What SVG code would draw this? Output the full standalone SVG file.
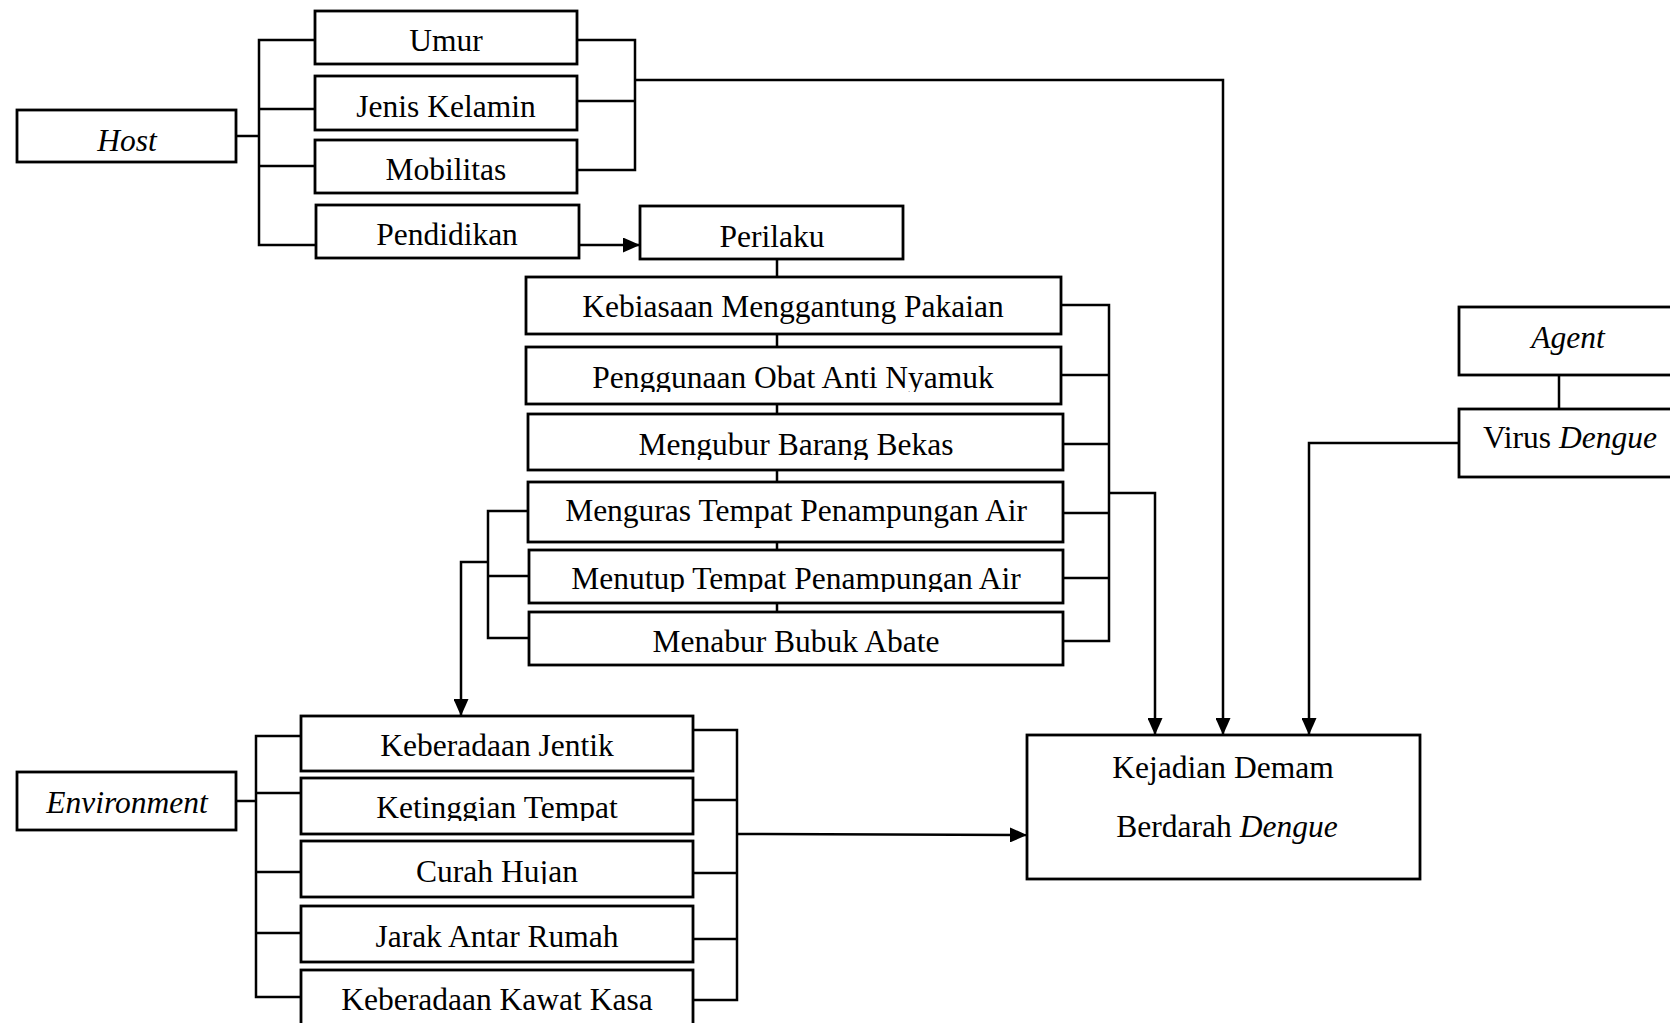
<svg xmlns="http://www.w3.org/2000/svg" width="1670" height="1023" viewBox="0 0 1670 1023">
<style>
.box{fill:#fff;stroke:#000;stroke-width:2.8}
.ln{fill:none;stroke:#000;stroke-width:2.5}
.t{font-family:"Liberation Serif","Times New Roman",serif;font-size:31.5px;fill:#000;text-anchor:middle}
.i{font-style:italic}
</style>
<defs>
<marker id="arr" viewBox="0 0 10 10" refX="10" refY="5" markerWidth="17" markerHeight="15" markerUnits="userSpaceOnUse" orient="auto" preserveAspectRatio="none">
<path d="M0,0 L10,5 L0,10 z" fill="#000"/>
</marker>
<clipPath id="cPeng"><rect x="526" y="347" width="535" height="45"/></clipPath>
<clipPath id="cMengubur"><rect x="528" y="414" width="535" height="46"/></clipPath>
<clipPath id="cMenutup"><rect x="529" y="550" width="534" height="42"/></clipPath>
<clipPath id="cKet"><rect x="301" y="778" width="392" height="43"/></clipPath>
<clipPath id="cCurah"><rect x="301" y="841" width="392" height="43"/></clipPath>
</defs>
<rect width="1670" height="1023" fill="#fff"/>

<g id="connectors">
<polyline class="ln" points="315,40 259,40 259,245 316,245"/>
<line class="ln" x1="259" y1="109" x2="315" y2="109"/>
<line class="ln" x1="259" y1="166" x2="315" y2="166"/>
<line class="ln" x1="236" y1="136" x2="259" y2="136"/>
<polyline class="ln" points="577,40 635,40 635,170 577,170"/>
<line class="ln" x1="577" y1="101" x2="635" y2="101"/>
<polyline class="ln" points="635,80 1223,80 1223,735" marker-end="url(#arr)"/>
<line class="ln" x1="579" y1="245" x2="640" y2="245" marker-end="url(#arr)"/>
<line class="ln" x1="777" y1="259" x2="777" y2="612"/>
<polyline class="ln" points="1061,305 1109,305 1109,641 1063,641"/>
<line class="ln" x1="1061" y1="375" x2="1109" y2="375"/>
<line class="ln" x1="1063" y1="444" x2="1109" y2="444"/>
<line class="ln" x1="1063" y1="513" x2="1109" y2="513"/>
<line class="ln" x1="1063" y1="578" x2="1109" y2="578"/>
<polyline class="ln" points="1109,493 1155,493 1155,735" marker-end="url(#arr)"/>
<polyline class="ln" points="528,511 488,511 488,638 529,638"/>
<line class="ln" x1="488" y1="576" x2="529" y2="576"/>
<polyline class="ln" points="488,562 461,562 461,716" marker-end="url(#arr)"/>
<polyline class="ln" points="301,736 256,736 256,997 301,997"/>
<line class="ln" x1="256" y1="793" x2="301" y2="793"/>
<line class="ln" x1="256" y1="872" x2="301" y2="872"/>
<line class="ln" x1="256" y1="933" x2="301" y2="933"/>
<line class="ln" x1="236" y1="801" x2="256" y2="801"/>
<polyline class="ln" points="693,730 737,730 737,1000 693,1000"/>
<line class="ln" x1="693" y1="800" x2="737" y2="800"/>
<line class="ln" x1="693" y1="873" x2="737" y2="873"/>
<line class="ln" x1="693" y1="939" x2="737" y2="939"/>
<line class="ln" x1="737" y1="834" x2="1027" y2="835" marker-end="url(#arr)"/>
<line class="ln" x1="1559" y1="375" x2="1559" y2="409"/>
<polyline class="ln" points="1459,443 1309,443 1309,735" marker-end="url(#arr)"/>
</g>

<g id="host"><rect class="box" x="17" y="110" width="219" height="52"/><text class="t i" x="127" y="151">Host</text></g>
<g id="umur"><rect class="box" x="315" y="11" width="262" height="53"/><text class="t" x="446" y="51">Umur</text></g>
<g id="jenis-kelamin"><rect class="box" x="315" y="76" width="262" height="54"/><text class="t" x="446" y="117">Jenis Kelamin</text></g>
<g id="mobilitas"><rect class="box" x="315" y="140" width="262" height="53"/><text class="t" x="446" y="180">Mobilitas</text></g>
<g id="pendidikan"><rect class="box" x="316" y="205" width="263" height="53"/><text class="t" x="447" y="245">Pendidikan</text></g>
<g id="perilaku"><rect class="box" x="640" y="206" width="263" height="53"/><text class="t" x="772" y="247">Perilaku</text></g>

<g id="kebiasaan"><rect class="box" x="526" y="277" width="535" height="57"/><text class="t" x="793" y="317">Kebiasaan Menggantung Pakaian</text></g>
<g id="penggunaan"><rect class="box" x="526" y="347" width="535" height="57"/><text class="t" x="793" y="388" clip-path="url(#cPeng)">Penggunaan Obat Anti Nyamuk</text></g>
<g id="mengubur"><rect class="box" x="528" y="414" width="535" height="56"/><text class="t" x="796" y="455" clip-path="url(#cMengubur)">Mengubur Barang Bekas</text></g>
<g id="menguras"><rect class="box" x="528" y="482" width="535" height="60"/><text class="t" x="796" y="521">Menguras Tempat Penampungan Air</text></g>
<g id="menutup"><rect class="box" x="529" y="550" width="534" height="53"/><text class="t" x="796" y="589" clip-path="url(#cMenutup)">Menutup Tempat Penampungan Air</text></g>
<g id="menabur"><rect class="box" x="529" y="612" width="534" height="53"/><text class="t" x="796" y="652">Menabur Bubuk Abate</text></g>

<g id="environment"><rect class="box" x="17" y="772" width="219" height="58"/><text class="t i" x="127" y="813">Environment</text></g>
<g id="jentik"><rect class="box" x="301" y="716" width="392" height="55"/><text class="t" x="497" y="756">Keberadaan Jentik</text></g>
<g id="ketinggian"><rect class="box" x="301" y="778" width="392" height="56"/><text class="t" x="497" y="818" clip-path="url(#cKet)">Ketinggian Tempat</text></g>
<g id="curah-hujan"><rect class="box" x="301" y="841" width="392" height="56"/><text class="t" x="497" y="882" clip-path="url(#cCurah)">Curah Hujan</text></g>
<g id="jarak"><rect class="box" x="301" y="906" width="392" height="56"/><text class="t" x="497" y="947">Jarak Antar Rumah</text></g>
<g id="kawat-kasa"><rect class="box" x="301" y="970" width="392" height="70"/><text class="t" x="497" y="1010">Keberadaan Kawat Kasa</text></g>

<g id="kejadian"><rect class="box" x="1027" y="735" width="393" height="144"/><text class="t" x="1223" y="778">Kejadian Demam</text><text class="t" x="1227" y="837">Berdarah <tspan class="i">Dengue</tspan></text></g>
<g id="agent"><rect class="box" x="1459" y="307" width="240" height="68"/><text class="t i" x="1568" y="348">Agent</text></g>
<g id="virus"><rect class="box" x="1459" y="409" width="240" height="68"/><text class="t" x="1570" y="448">Virus <tspan class="i">Dengue</tspan></text></g>
</svg>
